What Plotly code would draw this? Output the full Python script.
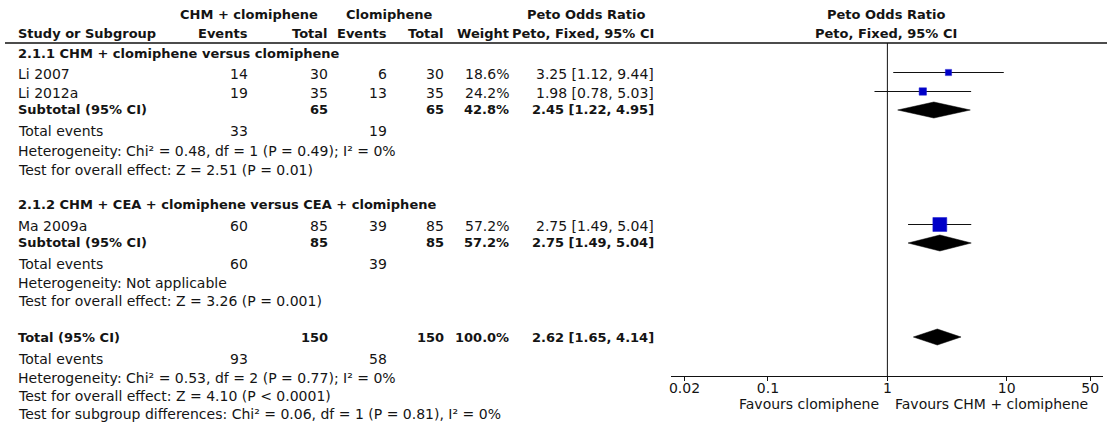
import plotly.graph_objects as go

# ---------------- data ----------------
studies = ["Li 2007", "Li 2012a", "Ma 2009a"]
study_group = [0, 0, 1]
chm_events = [14, 19, 60]
chm_total = [30, 35, 85]
clo_events = [6, 13, 39]
clo_total = [30, 35, 85]
weights = [18.6, 24.2, 57.2]
or_vals = [3.25, 1.98, 2.75]
ci_low = [1.12, 0.78, 1.49]
ci_high = [9.44, 5.03, 5.04]

subgroups = ["2.1.1 CHM + clomiphene versus clomiphene",
             "2.1.2 CHM + CEA + clomiphene versus CEA + clomiphene"]
sub_chm_total = [65, 85]
sub_clo_total = [65, 85]
sub_chm_events = [33, 60]
sub_clo_events = [19, 39]
sub_weight = [42.8, 57.2]
sub_or = [2.45, 2.75]
sub_low = [1.22, 1.49]
sub_high = [4.95, 5.04]
sub_het = ["Heterogeneity: Chi² = 0.48, df = 1 (P = 0.49); I² = 0%",
           "Heterogeneity: Not applicable"]
sub_test = ["Test for overall effect: Z = 2.51 (P = 0.01)",
            "Test for overall effect: Z = 3.26 (P = 0.001)"]

tot_chm_total = 150
tot_clo_total = 150
tot_chm_events = 93
tot_clo_events = 58
tot_weight = 100.0
tot_or = 2.62
tot_low = 1.65
tot_high = 4.14
tot_het = "Heterogeneity: Chi² = 0.53, df = 2 (P = 0.77); I² = 0%"
tot_test = "Test for overall effect: Z = 4.10 (P < 0.0001)"
tot_subgroup = "Test for subgroup differences: Chi² = 0.06, df = 1 (P = 0.81), I² = 0%"

tick_vals = [0.02, 0.1, 1, 10, 50]
tick_text = ["0.02", "0.1", "1", "10", "50"]
favours_left = "Favours clomiphene"
favours_right = "Favours CHM + clomiphene"

# ---------------- layout helpers ----------------
W, H = 1107, 425
FONT = "DejaVu Sans"
TXT = "#141414"
FS = 14
FSB = 13

# row positions (pixels from top)
group_rows = [
    dict(head=53, studies=[74, 93], sub=109, ev=131, het=151, test=170),
    dict(head=204, studies=[226], sub=242, ev=264, het=283, test=301),
]
ROW_TOTAL, ROW_TEV, ROW_THET, ROW_TTEST, ROW_TSUB = 337, 359, 378, 396, 414
HEAD1, HEAD2, HLINE, AXIS_Y = 15, 34, 43, 376
MARK_OFF = -1.5  # markers sit slightly above the text centre

C_LABEL, C_CE, C_CT, C_KE, C_KT, C_W, C_CI = 14, 248, 329, 388, 445, 510, 655

ann = []


def txt(x, y, s, anchor="left", bold=False, size=None):
    ann.append(dict(x=x / W, y=1 - y / H, xref="paper", yref="paper",
                    text=f"<b>{s}</b>" if bold else s, showarrow=False,
                    xanchor=anchor, yanchor="middle",
                    font=dict(family=FONT, size=size or (FSB if bold else FS), color=TXT)))


def ci_str(o, lo, hi):
    return f"{o:.2f} [{lo:.2f}, {hi:.2f}]"


# headers
txt(247, HEAD1, "CHM + clomiphene", "center", True)
txt(388, HEAD1, "Clomiphene", "center", True)
txt(585, HEAD1, "Peto Odds Ratio", "center", True)
txt(886, HEAD1, "Peto Odds Ratio", "center", True)
txt(C_LABEL, HEAD2, "Study or Subgroup", "left", True)
txt(C_CE, HEAD2, "Events", "right", True)
txt(C_CT, HEAD2, "Total", "right", True)
txt(C_KE, HEAD2, "Events", "right", True)
txt(C_KT, HEAD2, "Total", "right", True)
txt(C_W, HEAD2, "Weight", "right", True)
txt(C_CI, HEAD2, "Peto, Fixed, 95% CI", "right", True)
txt(886, HEAD2, "Peto, Fixed, 95% CI", "center", True)

fig = go.Figure()

# groups
study_y = []
for g, rows in enumerate(group_rows):
    txt(C_LABEL, rows["head"], subgroups[g], "left", True)
    idx = [i for i, sg in enumerate(study_group) if sg == g]
    for k, i in enumerate(idx):
        y = rows["studies"][k]
        study_y.append(y + MARK_OFF)
        txt(C_LABEL, y, studies[i])
        txt(C_CE, y, str(chm_events[i]), "right")
        txt(C_CT, y, str(chm_total[i]), "right")
        txt(C_KE, y, str(clo_events[i]), "right")
        txt(C_KT, y, str(clo_total[i]), "right")
        txt(C_W, y, f"{weights[i]:.1f}%", "right")
        txt(C_CI, y, ci_str(or_vals[i], ci_low[i], ci_high[i]), "right")
    y = rows["sub"]
    txt(C_LABEL, y, "Subtotal (95% CI)", "left", True)
    txt(C_CT, y, str(sub_chm_total[g]), "right", True)
    txt(C_KT, y, str(sub_clo_total[g]), "right", True)
    txt(C_W, y, f"{sub_weight[g]:.1f}%", "right", True)
    txt(C_CI, y, ci_str(sub_or[g], sub_low[g], sub_high[g]), "right", True)
    txt(C_LABEL, rows["ev"], "Total events")
    txt(C_CE, rows["ev"], str(sub_chm_events[g]), "right")
    txt(C_KE, rows["ev"], str(sub_clo_events[g]), "right")
    txt(C_LABEL, rows["het"], sub_het[g])
    txt(C_LABEL, rows["test"], sub_test[g])

# overall
txt(C_LABEL, ROW_TOTAL, "Total (95% CI)", "left", True)
txt(C_CT, ROW_TOTAL, str(tot_chm_total), "right", True)
txt(C_KT, ROW_TOTAL, str(tot_clo_total), "right", True)
txt(C_W, ROW_TOTAL, f"{tot_weight:.1f}%", "right", True)
txt(C_CI, ROW_TOTAL, ci_str(tot_or, tot_low, tot_high), "right", True)
txt(C_LABEL, ROW_TEV, "Total events")
txt(C_CE, ROW_TEV, str(tot_chm_events), "right")
txt(C_KE, ROW_TEV, str(tot_clo_events), "right")
txt(C_LABEL, ROW_THET, tot_het)
txt(C_LABEL, ROW_TTEST, tot_test)
txt(C_LABEL, ROW_TSUB, tot_subgroup)

txt(881, 404, favours_left, "right")
txt(893, 404, favours_right, "left")

# line of no effect
fig.add_trace(go.Scatter(x=[1, 1], y=[HLINE, AXIS_Y], mode="lines",
                         line=dict(color="#111111", width=1), hoverinfo="skip"))

# study estimates with CIs
fig.add_trace(go.Scatter(
    x=or_vals, y=study_y, mode="markers",
    marker=dict(symbol="square", color="#0000c8", opacity=1,
                size=[2.5 + 0.2 * w for w in weights],
                line=dict(color="#1a1ad0", width=0.5)),
    error_x=dict(type="data", symmetric=False,
                 array=[h - o for h, o in zip(ci_high, or_vals)],
                 arrayminus=[o - l for o, l in zip(or_vals, ci_low)],
                 color="#111111", thickness=1, width=0),
))

# diamonds
DH = 8
diamonds = [(sub_or[g], sub_low[g], sub_high[g], group_rows[g]["sub"] + 1) for g in range(2)]
diamonds.append((tot_or, tot_low, tot_high, ROW_TOTAL))
for o, lo, hi, y in diamonds:
    fig.add_trace(go.Scatter(x=[lo, o, hi, o, lo], y=[y, y - DH, y, y + DH, y],
                             mode="lines", fill="toself", fillcolor="black",
                             line=dict(color="black", width=0.5), hoverinfo="skip"))

x_range = [-1.814, 1.806]
x_domain = [670 / W, 1103 / W]

fig.update_layout(
    width=W, height=H, margin=dict(l=0, r=0, t=0, b=0),
    paper_bgcolor="white", plot_bgcolor="white", showlegend=False,
    annotations=ann,
    xaxis=dict(type="log", range=x_range, domain=x_domain, showline=True,
               linecolor="#111111", linewidth=1, ticks="outside", ticklen=4,
               tickcolor="#111111", tickwidth=1, tickvals=tick_vals, ticktext=tick_text,
               tickfont=dict(family=FONT, size=FS, color=TXT), ticklabelstandoff=-5,
               showgrid=False, zeroline=False, fixedrange=True),
    xaxis2=dict(type="log", range=x_range, domain=x_domain, overlaying="x", anchor="y",
                side="bottom", ticks="inside", ticklen=5, tickcolor="#111111", tickwidth=1,
                tickvals=tick_vals, showticklabels=False, showline=False,
                showgrid=False, zeroline=False, fixedrange=True),
    yaxis=dict(domain=[1 - AXIS_Y / H, 1 - HLINE / H], range=[AXIS_Y, HLINE],
               visible=False, fixedrange=True),
    shapes=[dict(type="line", xref="paper", yref="paper", x0=3 / W, x1=1,
                 y0=1 - HLINE / H, y1=1 - HLINE / H,
                 line=dict(color="#111111", width=1.5))],
)

fig.write_html("out.html", config={"displayModeBar": False},
               post_script="document.body.style.margin='0px';")
